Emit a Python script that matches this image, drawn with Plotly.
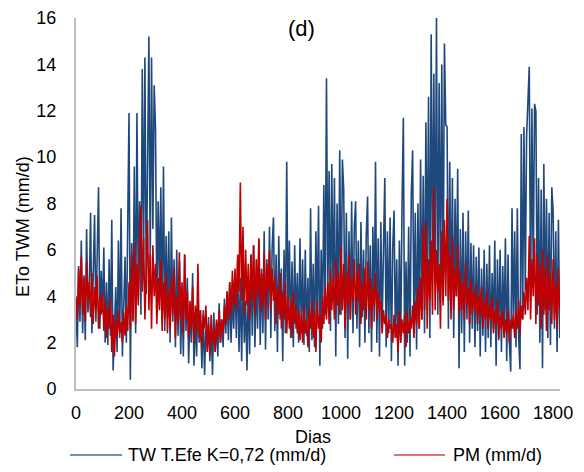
import plotly.graph_objects as go

# Day index (every 5 days)
dias = list(range(0, 1830, 5))

tw_efe = [
    3.6, 1.8, 5.3, 2.9, 6.4, 2.4, 4.9, 2.1, 6.9, 3.3,
    4.2, 7.6, 2.4, 5.6, 7.5, 2.9, 6.0, 8.7, 2.6, 5.1,
    3.3, 6.1, 2.0, 4.6, 1.9, 5.6, 2.3, 7.3, 0.8, 3.1,
    4.4, 1.6, 6.4, 2.2, 7.8, 1.4, 3.9, 5.7, 2.0, 8.0,
    11.9, 0.4, 6.3, 2.9, 9.6, 2.4, 11.9, 4.0, 8.1, 3.2,
    13.8, 5.8, 14.3, 4.1, 9.2, 15.2, 5.4, 14.3, 6.9, 13.1,
    11.2, 3.4, 8.1, 4.4, 8.7, 2.9, 9.6, 2.5, 6.6, 3.1,
    6.8, 2.0, 7.4, 2.9, 5.6, 1.8, 6.0, 2.3, 5.5, 1.5,
    4.2, 1.4, 5.8, 2.5, 4.8, 1.1, 3.6, 2.0, 5.0, 1.0,
    3.3, 1.4, 3.8, 2.0, 2.9, 0.9, 3.4, 0.6, 2.6, 1.8,
    3.1, 1.2, 2.7, 0.6, 3.3, 1.6, 2.8, 1.4, 3.7, 2.0,
    3.0, 1.8, 3.9, 2.4, 4.2, 2.1, 4.6, 2.0, 4.1, 2.6,
    5.0, 2.2, 5.6, 1.6, 4.8, 1.2, 5.2, 2.0, 3.8, 0.8,
    4.6, 1.5, 5.8, 2.3, 6.2, 1.8, 4.9, 2.6, 6.4, 1.9,
    5.2, 2.4, 6.8, 1.7, 5.6, 3.0, 7.0, 2.2, 6.1, 7.4,
    2.5, 5.8, 1.6, 6.6, 3.0, 5.2, 1.2, 6.0, 2.4, 9.8,
    3.0, 6.4, 2.2, 5.5, 1.8, 6.2, 2.6, 5.0, 2.0, 6.5,
    2.4, 5.6, 1.9, 6.0, 2.3, 4.8, 1.6, 7.8, 2.1, 5.4,
    1.8, 6.8, 3.0, 7.9, 1.0, 6.0, 2.6, 8.8, 3.2, 13.4,
    4.0, 9.4, 2.5, 9.7, 3.8, 9.1, 1.4, 8.0, 2.8, 10.3,
    3.2, 9.9, 8.6, 2.2, 7.6, 1.3, 6.8, 3.0, 8.1, 2.4,
    7.0, 8.1, 2.6, 6.4, 1.8, 7.2, 3.1, 6.0, 2.0, 6.6,
    8.3, 2.4, 6.2, 1.6, 7.0, 2.9, 9.8, 2.0, 6.5, 1.4,
    7.2, 2.6, 6.0, 9.1, 1.8, 6.8, 2.4, 7.4, 1.2, 6.1,
    7.7, 2.2, 5.6, 1.0, 6.4, 2.0, 7.9, 11.7, 1.0, 5.5,
    2.0, 7.0, 1.4, 8.4, 10.3, 2.4, 7.6, 1.7, 8.0, 2.6,
    9.9, 3.0, 9.2, 2.4, 11.5, 4.6, 12.6, 2.2, 15.3, 5.2,
    13.6, 5.0, 16.0, 3.2, 13.2, 4.4, 14.0, 3.8, 14.9, 11.4,
    11.3, 2.6, 9.8, 3.4, 9.1, 2.2, 8.2, 4.0, 9.5, 0.9,
    6.9, 2.4, 7.6, 1.6, 6.8, 3.0, 7.7, 2.0, 6.3, 2.6,
    6.2, 1.8, 5.7, 2.5, 6.1, 1.4, 5.2, 2.3, 6.0, 1.6,
    5.4, 2.2, 6.2, 1.8, 5.0, 2.6, 6.4, 1.0, 5.6, 2.1,
    6.0, 1.6, 5.3, 2.4, 6.5, 1.2, 5.8, 2.0, 0.75, 7.8,
    2.6, 6.8, 1.8, 7.8, 2.2, 0.85, 11.0, 3.0, 11.3, 4.2,
    10.9, 12.4, 13.9, 3.8, 12.1, 5.0, 12.3, 12.0, 3.2, 9.1,
    2.0, 8.6, 0.9, 9.7, 3.4, 8.2, 2.2, 7.6, 1.9, 8.7,
    7.7, 2.6, 6.8, 1.6, 7.3, 2.2,
]

pm = [
    4.0, 3.0, 5.2, 3.6, 5.7, 3.2, 4.8, 2.9, 5.5, 3.8,
    4.6, 3.1, 5.0, 2.8, 4.4, 3.4, 4.9, 2.6, 4.0, 3.2,
    4.2, 2.5, 3.8, 2.2, 3.5, 2.6, 3.9, 1.6, 3.2, 1.4,
    3.0, 2.2, 3.4, 2.4, 2.9, 2.0, 3.3, 2.3, 3.6, 2.5,
    4.6, 2.6, 5.8, 3.0, 6.3, 2.8, 5.4, 3.6, 6.0, 7.9,
    4.2, 6.5, 3.0, 5.6, 7.3, 3.4, 5.8, 2.6, 6.2, 4.0,
    5.4, 2.8, 4.8, 3.4, 5.6, 2.5, 4.6, 3.0, 5.0, 2.4,
    4.3, 2.6, 4.8, 3.2, 5.2, 2.2, 4.0, 2.8, 5.9, 3.0,
    4.6, 2.4, 5.8, 3.0, 4.2, 2.2, 3.8, 2.6, 4.4, 2.0,
    3.6, 2.4, 5.4, 2.2, 3.4, 1.8, 3.2, 2.6, 3.6, 1.6,
    2.8, 1.5, 3.2, 2.0, 2.6, 1.6, 3.0, 2.2, 3.4, 2.0,
    3.0, 2.4, 3.6, 2.8, 4.2, 3.0, 4.6, 3.2, 5.1, 3.6,
    5.2, 3.4, 5.8, 4.2, 8.9, 3.8, 7.0, 3.2, 6.0, 3.6,
    5.4, 3.0, 5.8, 3.8, 6.2, 3.2, 5.6, 4.0, 6.5, 3.4,
    5.0, 3.6, 5.9, 3.0, 5.4, 4.2, 6.0, 3.4, 5.2, 3.8,
    4.8, 2.8, 4.4, 3.2, 5.0, 2.6, 4.2, 3.0, 4.6, 2.4,
    4.0, 2.6, 3.8, 2.2, 4.2, 2.8, 3.6, 2.4, 3.4, 2.1,
    3.2, 2.0, 3.6, 2.4, 3.0, 1.8, 3.4, 2.6, 3.8, 2.2,
    3.4, 1.6, 3.8, 2.6, 3.2, 2.0, 4.0, 2.8, 4.4, 3.0,
    4.6, 2.8, 5.2, 3.4, 4.8, 3.0, 5.6, 3.6, 5.0, 3.2,
    6.1, 3.4, 5.4, 2.6, 5.0, 3.6, 5.8, 3.0, 4.8, 3.8,
    5.6, 3.2, 5.0, 3.8, 5.4, 2.8, 4.6, 3.4, 5.2, 3.0,
    5.5, 3.4, 4.8, 2.6, 4.4, 3.6, 5.0, 3.0, 4.2, 3.4,
    3.8, 2.4, 3.4, 2.8, 3.2, 2.2, 3.0, 2.6, 2.8, 2.0,
    3.2, 2.2, 2.8, 1.6, 3.4, 2.0, 3.0, 2.4, 3.2, 1.8,
    3.4, 2.4, 3.0, 2.6, 3.6, 2.2, 3.8, 2.8, 4.4, 2.6,
    4.8, 3.0, 7.0, 3.4, 7.2, 2.6, 5.6, 3.8, 6.4, 3.2,
    8.65, 3.4, 6.0, 4.2, 5.4, 2.6, 6.8, 3.6, 7.3, 4.0,
    8.2, 3.8, 5.8, 3.0, 6.6, 3.4, 5.2, 4.0, 6.2, 3.2,
    5.0, 3.4, 4.6, 3.0, 5.4, 3.6, 4.4, 2.8, 4.8, 3.2,
    4.2, 3.4, 4.5, 2.8, 4.0, 3.2, 4.4, 2.6, 3.8, 3.0,
    4.2, 2.6, 3.6, 3.0, 4.0, 2.4, 3.4, 2.8, 3.8, 2.2,
    3.2, 2.6, 3.4, 2.2, 3.0, 2.4, 3.4, 2.0, 3.0, 2.6,
    3.2, 2.2, 3.4, 2.6, 3.8, 2.4, 3.6, 3.0, 4.2, 3.2,
    4.8, 3.4, 6.6, 3.0, 5.6, 4.0, 6.5, 2.8, 5.8, 3.6,
    5.4, 2.6, 6.0, 3.2, 5.2, 2.5, 5.8, 3.4, 5.0, 2.8,
    5.6, 3.0, 4.6, 2.6, 5.2, 3.4,
]

series_names = ["TW T.Efe K=0,72 (mm/d)", "PM (mm/d)"]
x_ticks = [0, 200, 400, 600, 800, 1000, 1200, 1400, 1600, 1800]
y_ticks = [0, 2, 4, 6, 8, 10, 12, 14, 16]

FONT = "Liberation Sans, Arial, sans-serif"
BLUE = "#1F497D"
RED = "#C00000"

W, H = 584, 472
ML, MR, MT, MB = 76, 24, 18, 83
PW, PH = W - ML - MR, H - MT - MB


def px(xp):
    return (xp - ML) / PW


def py(yp):
    return (H - MB - yp) / PH


fig = go.Figure()
fig.add_trace(go.Scatter(x=dias, y=tw_efe, mode="lines", name=series_names[0],
                         line=dict(color=BLUE, width=1.6), showlegend=False))
fig.add_trace(go.Scatter(x=dias, y=pm, mode="lines", name=series_names[1],
                         line=dict(color=RED, width=1.6), showlegend=False))

shapes = [
    dict(type="line", xref="paper", yref="paper", x0=px(70), x1=px(122),
         y0=py(455), y1=py(455), line=dict(color="#4A6D9F", width=1.5)),
    dict(type="line", xref="paper", yref="paper", x0=px(394), x1=px(445),
         y0=py(455), y1=py(455), line=dict(color="#D04848", width=1.5)),
]


def ann(text, x, y, xanchor="center", **kw):
    return dict(text=text, x=px(x), y=py(y), xref="paper", yref="paper",
                xanchor=xanchor, yanchor="middle", showarrow=False, **kw)


annotations = [
    ann("(d)", 301, 29, font=dict(size=22)),
    ann("Dias", 312.5, 437, font=dict(size=18)),
    ann("ETo TWM (mm/d)", 23, 227, textangle=-90, font=dict(size=18)),
    ann(series_names[0], 126, 455, xanchor="left", font=dict(size=18)),
    ann(series_names[1], 451, 455, xanchor="left", font=dict(size=18)),
]

fig.update_layout(
    width=W, height=H,
    margin=dict(l=ML, r=MR, t=MT, b=MB, autoexpand=False),
    paper_bgcolor="white", plot_bgcolor="white",
    font=dict(family=FONT, size=18, color="#000000"),
    showlegend=False,
    xaxis=dict(range=[0, 1826], tickvals=x_ticks, ticktext=[str(v) for v in x_ticks],
               showgrid=False, zeroline=False, showline=True, linecolor="#BFBFBF",
               linewidth=2, ticks="", tickfont=dict(size=18), ticklabelstandoff=6),
    yaxis=dict(range=[0, 16], tickvals=y_ticks, ticktext=[str(v) for v in y_ticks],
               showgrid=False, zeroline=False, showline=True, linecolor="#BFBFBF",
               linewidth=2, ticks="", tickfont=dict(size=18), ticklabelstandoff=14),
    shapes=shapes,
    annotations=annotations,
)

fig.write_html("out.html")
